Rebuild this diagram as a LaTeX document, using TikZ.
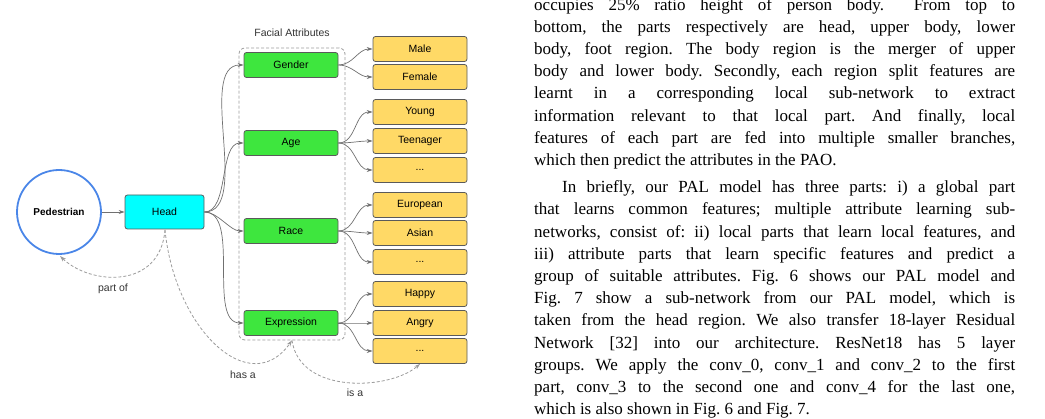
\documentclass[tikz,border=0pt]{standalone}
\usepackage{fontspec}
\setmainfont{Liberation Serif}
\newfontfamily\arialf{Liberation Sans}
\usetikzlibrary{arrows.meta}
\definecolor{gr}{HTML}{3EE63E}
\definecolor{ye}{HTML}{FFD966}
\definecolor{bl}{HTML}{4A86E8}
\definecolor{cy}{HTML}{00FFFF}
\definecolor{ln}{HTML}{707070}
\begin{document}
\frenchspacing
\begin{tikzpicture}[x=1pt,y=-1pt,
  box/.style={draw=ln!80!black,line width=0.8pt,rounded corners=2.5pt,minimum height=25pt,inner sep=0pt,font=\arialf\fontsize{10.5}{12}\selectfont},
  green/.style={box,fill=gr,minimum width=94pt},
  yel/.style={box,fill=ye,minimum width=94pt},
  arr/.style={draw=ln,line width=0.7pt,-{Stealth[length=6pt,width=4pt]}},
  dsh/.style={draw=ln!70,line width=0.8pt,dash pattern=on 3pt off 2pt,-{Stealth[length=6pt,width=4pt]}},
  lab/.style={font=\arialf\fontsize{10.5}{12}\selectfont,text=black!80}]
\useasboundingbox (0,0) rectangle (1045,419);
\begin{scope}
\clip (0,0) rectangle (1045,419);
\node[anchor=north west,inner sep=0pt,text width=481pt,font=\fontsize{17}{22.2}\selectfont,align=justify] (txt) at (534,-2) {%
occupies 25\% ratio height of person body.\ \ From top to\linebreak
bottom, the parts respectively are head, upper body, lower\linebreak
body, foot region. The body region is the merger of upper\linebreak
body and lower body. Secondly, each region split features are\linebreak
learnt in a corresponding local sub-network to extract\linebreak
information relevant to that local part. And finally, local\linebreak
features of each part are fed into multiple smaller branches,\linebreak
which then predict the attributes in the PAO.\par\vspace{5pt}
\hspace*{28pt}In briefly, our PAL model has three parts: i) a global part\linebreak
that learns common features; multiple attribute learning sub-\linebreak
networks, consist of: ii) local parts that learn local features, and\linebreak
iii) attribute parts that learn specific features and predict a\linebreak
group of suitable attributes. Fig. 6 shows our PAL model and\linebreak
Fig. 7 show a sub-network from our PAL model, which is\linebreak
taken from the head region. We also transfer 18-layer Residual\linebreak
Network [32] into our architecture. ResNet18 has 5 layer\linebreak
groups. We apply the conv\_0, conv\_1 and conv\_2 to the first\linebreak
part, conv\_3 to the second one and conv\_4 for the last one,\linebreak
which is also shown in Fig. 6 and Fig. 7.};
\end{scope}

\node[circle,draw=bl,line width=1.8pt,minimum size=84pt,inner sep=0pt,font=\arialf\bfseries\fontsize{10}{12}\selectfont] (ped) at (59,212) {Pedestrian};
\node[box,fill=cy,minimum width=79pt,minimum height=34pt] (head) at (164.5,212) {Head};

\node[draw=ln!70,line width=0.8pt,dash pattern=on 3pt off 2pt,rounded corners=6pt,minimum width=106pt,minimum height=292pt] (fa) at (292,194) {};
\node[lab] (fat) at (292,33) {Facial Attributes};

\node[green] (gen) at (291,65) {Gender};
\node[green] (age) at (291,143) {Age};
\node[green] (race) at (291,231) {Race};
\node[green] (expr) at (291,323) {Expression};

\node[yel] (male) at (420,49) {Male};
\node[yel] (fem) at (420,77) {Female};
\node[yel] (young) at (420,112) {Young};
\node[yel] (teen) at (420,141) {Teenager};
\node[yel] (a3) at (420,170) {...};
\node[yel] (eur) at (420,205) {European};
\node[yel] (asi) at (420,233) {Asian};
\node[yel] (r3) at (420,262) {...};
\node[yel] (hap) at (420,294) {Happy};
\node[yel] (ang) at (420,323) {Angry};
\node[yel] (e3) at (420,351) {...};

\draw[arr] (ped) -- (head);
\foreach \g in {gen,age,race,expr}
  \draw[arr] (head.east) to[out=0,in=180,looseness=0.8] (\g.west);
\draw[arr] (gen.east) to[out=0,in=180] (male.west);
\draw[arr] (gen.east) to[out=0,in=180] (fem.west);
\foreach \y in {young,teen,a3} \draw[arr] (age.east) to[out=0,in=180] (\y.west);
\foreach \y in {eur,asi,r3} \draw[arr] (race.east) to[out=0,in=180] (\y.west);
\foreach \y in {hap,ang,e3} \draw[arr] (expr.east) to[out=0,in=180] (\y.west);

\coordinate (hb) at (165,230);
\draw[dsh] (hb) .. controls (160,290) and (90,285) .. (60,256);
\node[lab] (po) at (113,289) {part of};
\draw[dsh] (hb) .. controls (175,330) and (250,400) .. (fa.south);
\node[lab] (ha) at (243,375) {has a};
\draw[dsh] (fa.south) .. controls (300,395) and (390,390) .. (e3.south);
\node[lab] (isa) at (355,393) {is a};
\end{tikzpicture}
\end{document}
